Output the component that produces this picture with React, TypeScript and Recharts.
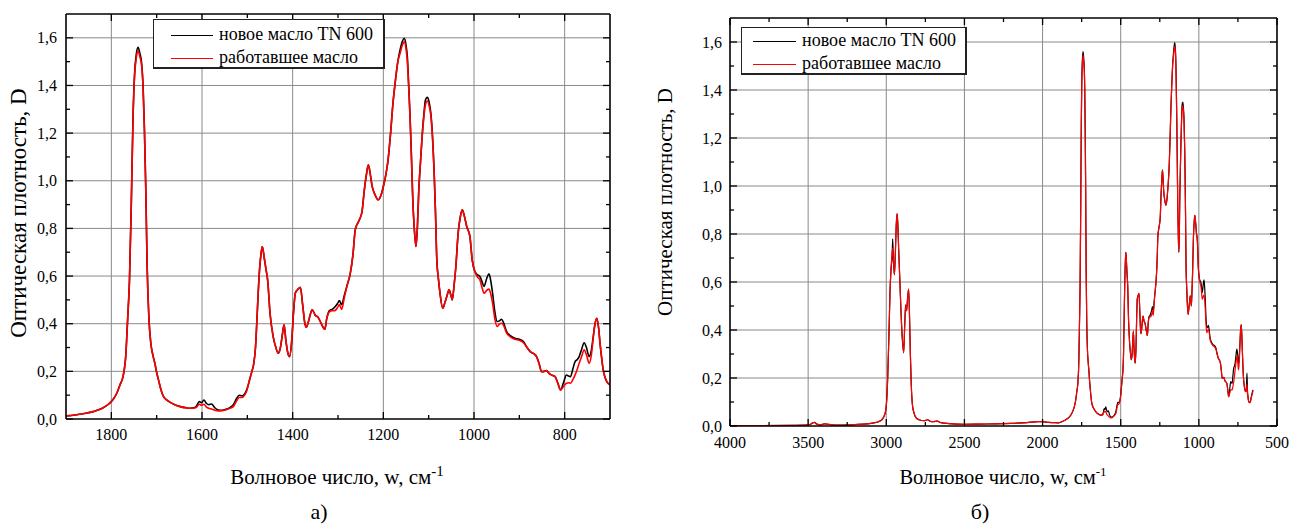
import React from 'react';
import { LineChart, Line, XAxis, YAxis, ReferenceLine, Legend } from 'recharts';

// Wavenumber, cm^-1 (descending)
const wavenumber = [
  4000, 3800, 3600, 3520, 3490, 3470, 3460, 3445, 3420, 3395, 3380, 3350, 3300, 3200, 3120, 3080, 3050, 3030, 3015, 3005,
  2997, 2990, 2983, 2976, 2969, 2963, 2959, 2955, 2948, 2942, 2936, 2931, 2926, 2921, 2914, 2906, 2898, 2889, 2882, 2876,
  2870, 2864, 2857, 2851, 2846, 2840, 2833, 2823, 2810, 2790, 2760, 2735, 2720, 2700, 2675, 2650, 2600, 2500, 2400, 2300,
  2200, 2100, 2030, 2000, 1960, 1930, 1900, 1880, 1860, 1840, 1820, 1805, 1795, 1788, 1781, 1774, 1768, 1764, 1760, 1756,
  1752, 1749, 1745, 1741, 1737, 1733, 1730, 1727, 1724, 1721, 1717, 1713, 1708, 1704, 1700, 1696, 1690, 1685, 1678, 1670,
  1660, 1648, 1635, 1626, 1616, 1612, 1606, 1601, 1596, 1590, 1585, 1579, 1572, 1564, 1555, 1545, 1537, 1531, 1524, 1518,
  1512, 1506, 1501, 1495, 1490, 1486, 1482, 1478, 1474, 1470, 1467, 1463, 1459, 1455, 1450, 1443, 1437, 1432, 1427, 1423,
  1419, 1415, 1411, 1407, 1402, 1398, 1394, 1388, 1383, 1378, 1373, 1370, 1365, 1361, 1357, 1350, 1344, 1338, 1333, 1329,
  1325, 1319, 1313, 1307, 1301, 1297, 1292, 1286, 1280, 1273, 1267, 1262, 1257, 1252, 1247, 1242, 1237, 1233, 1229, 1225,
  1218, 1211, 1205, 1200, 1195, 1190, 1184, 1179, 1174, 1168, 1163, 1158, 1154, 1150, 1147, 1144, 1141, 1138, 1135, 1131,
  1128, 1125, 1122, 1118, 1115, 1111, 1107, 1103, 1099, 1095, 1091, 1088, 1085, 1082, 1078, 1075, 1069, 1064, 1060, 1055,
  1051, 1048, 1044, 1040, 1035, 1030, 1026, 1021, 1016, 1009, 1004, 998, 992, 987, 982, 978, 972, 967, 963, 959,
  954, 949, 944, 939, 934, 928, 920, 910, 900, 891, 883, 876, 869, 862, 856, 851, 845, 840, 834, 829,
  821, 815, 809, 803, 796, 791, 787, 782, 777, 772, 768, 763, 757, 752, 746, 741, 737, 733, 729, 725,
  722, 718, 715, 711, 707, 700, 696, 692, 689, 685, 680, 672, 665, 658, 653,
];

// New oil TN 600 (black)
const newOil = [
  0.002, 0.002, 0.003, 0.004, 0.006, 0.013, 0.015, 0.008, 0.005, 0.009, 0.008, 0.005, 0.004, 0.006, 0.009, 0.013, 0.018, 0.025, 0.04, 0.06,
  0.11, 0.22, 0.38, 0.56, 0.66, 0.7, 0.78, 0.7, 0.63, 0.72, 0.84, 0.885, 0.84, 0.74, 0.62, 0.48, 0.37, 0.305, 0.42, 0.505,
  0.48, 0.53, 0.57, 0.45, 0.3, 0.17, 0.09, 0.055, 0.035, 0.026, 0.022, 0.026, 0.02, 0.018, 0.02, 0.014, 0.01, 0.007, 0.008, 0.009,
  0.011, 0.014, 0.018, 0.018, 0.015, 0.014, 0.013, 0.017, 0.023, 0.031, 0.045, 0.064, 0.085, 0.108, 0.143, 0.18, 0.27, 0.42, 0.58, 0.9,
  1.28, 1.44, 1.53, 1.56, 1.535, 1.49, 1.4, 1.22, 0.97, 0.64, 0.42, 0.32, 0.265, 0.234, 0.195, 0.164, 0.12, 0.095, 0.08, 0.07,
  0.06, 0.052, 0.047, 0.045, 0.048, 0.055, 0.073, 0.068, 0.08, 0.065, 0.06, 0.063, 0.048, 0.038, 0.037, 0.042, 0.05, 0.06, 0.085, 0.1,
  0.097, 0.105, 0.125, 0.165, 0.2, 0.23, 0.3, 0.45, 0.6, 0.69, 0.724, 0.68, 0.63, 0.58, 0.445, 0.346, 0.3, 0.276, 0.3, 0.35,
  0.395, 0.33, 0.28, 0.262, 0.33, 0.45, 0.53, 0.545, 0.553, 0.48, 0.4, 0.385, 0.41, 0.44, 0.458, 0.435, 0.427, 0.405, 0.385, 0.377,
  0.42, 0.455, 0.46, 0.47, 0.485, 0.497, 0.48, 0.52, 0.56, 0.61, 0.69, 0.794, 0.82, 0.84, 0.87, 0.96, 1.03, 1.067, 1.03, 0.98,
  0.94, 0.92, 0.94, 0.976, 1.02, 1.08, 1.2, 1.32, 1.41, 1.5, 1.55, 1.585, 1.598, 1.57, 1.52, 1.4, 1.27, 1.1, 0.92, 0.78,
  0.724, 0.8, 0.95, 1.08, 1.17, 1.27, 1.34, 1.35, 1.33, 1.28, 1.17, 1.04, 0.87, 0.668, 0.58, 0.528, 0.465, 0.49, 0.514, 0.542,
  0.52, 0.5, 0.56, 0.64, 0.78, 0.85, 0.878, 0.85, 0.808, 0.766, 0.668, 0.619, 0.605, 0.598, 0.575, 0.556, 0.59, 0.609, 0.58, 0.528,
  0.45, 0.409, 0.412, 0.419, 0.4, 0.367, 0.35, 0.339, 0.335, 0.325, 0.3, 0.283, 0.275, 0.262, 0.23, 0.199, 0.2, 0.203, 0.19, 0.185,
  0.178, 0.15, 0.122, 0.15, 0.185, 0.18, 0.178, 0.21, 0.241, 0.25, 0.262, 0.29, 0.32, 0.3, 0.262, 0.29, 0.346, 0.4, 0.423, 0.38,
  0.318, 0.25, 0.206, 0.175, 0.157, 0.143, 0.155, 0.22, 0.15, 0.12, 0.1, 0.1, 0.12, 0.14, 0.15,
];

// Used oil (red)
const usedOil = [
  0.002, 0.002, 0.003, 0.004, 0.006, 0.013, 0.015, 0.008, 0.005, 0.009, 0.008, 0.005, 0.004, 0.006, 0.009, 0.013, 0.018, 0.025, 0.04, 0.06,
  0.11, 0.22, 0.38, 0.56, 0.66, 0.72, 0.74, 0.7, 0.63, 0.72, 0.84, 0.885, 0.84, 0.74, 0.62, 0.48, 0.37, 0.305, 0.42, 0.505,
  0.48, 0.53, 0.57, 0.45, 0.3, 0.17, 0.09, 0.055, 0.035, 0.026, 0.022, 0.026, 0.02, 0.018, 0.02, 0.014, 0.01, 0.007, 0.008, 0.009,
  0.011, 0.014, 0.018, 0.018, 0.015, 0.014, 0.013, 0.017, 0.023, 0.031, 0.045, 0.064, 0.085, 0.108, 0.143, 0.18, 0.27, 0.42, 0.58, 0.9,
  1.27, 1.43, 1.515, 1.545, 1.52, 1.48, 1.39, 1.21, 0.96, 0.64, 0.42, 0.32, 0.265, 0.234, 0.195, 0.164, 0.12, 0.095, 0.08, 0.07,
  0.06, 0.052, 0.047, 0.045, 0.046, 0.05, 0.062, 0.058, 0.062, 0.05, 0.045, 0.042, 0.037, 0.034, 0.035, 0.04, 0.046, 0.052, 0.075, 0.09,
  0.09, 0.1, 0.12, 0.165, 0.2, 0.23, 0.3, 0.45, 0.6, 0.69, 0.724, 0.68, 0.63, 0.58, 0.445, 0.346, 0.3, 0.276, 0.3, 0.35,
  0.395, 0.33, 0.28, 0.262, 0.33, 0.45, 0.53, 0.545, 0.553, 0.48, 0.4, 0.385, 0.41, 0.44, 0.458, 0.435, 0.427, 0.405, 0.385, 0.377,
  0.42, 0.45, 0.455, 0.455, 0.468, 0.48, 0.46, 0.51, 0.56, 0.61, 0.69, 0.794, 0.82, 0.84, 0.87, 0.96, 1.03, 1.067, 1.03, 0.98,
  0.94, 0.92, 0.94, 0.976, 1.02, 1.08, 1.2, 1.32, 1.41, 1.5, 1.535, 1.57, 1.583, 1.555, 1.5, 1.39, 1.26, 1.1, 0.92, 0.78,
  0.724, 0.8, 0.95, 1.08, 1.17, 1.26, 1.32, 1.335, 1.315, 1.27, 1.16, 1.04, 0.87, 0.668, 0.58, 0.528, 0.465, 0.49, 0.514, 0.542,
  0.52, 0.5, 0.56, 0.64, 0.78, 0.85, 0.878, 0.85, 0.808, 0.766, 0.668, 0.619, 0.595, 0.584, 0.55, 0.528, 0.54, 0.545, 0.525, 0.486,
  0.42, 0.388, 0.398, 0.402, 0.39, 0.36, 0.345, 0.335, 0.33, 0.32, 0.3, 0.283, 0.275, 0.262, 0.23, 0.199, 0.2, 0.203, 0.19, 0.185,
  0.178, 0.15, 0.122, 0.135, 0.15, 0.152, 0.15, 0.165, 0.185, 0.21, 0.234, 0.26, 0.29, 0.27, 0.234, 0.27, 0.34, 0.4, 0.423, 0.38,
  0.318, 0.25, 0.206, 0.175, 0.157, 0.143, 0.145, 0.175, 0.135, 0.115, 0.097, 0.097, 0.115, 0.135, 0.145,
];

const seriesNames = ['новое масло TN 600', 'работавшее масло'];
const seriesColors = ['#000000', '#ff0000'];

const yTicks = [0, 0.1, 0.2, 0.3, 0.4, 0.5, 0.6, 0.7, 0.8, 0.9, 1.0, 1.1, 1.2, 1.3, 1.4, 1.5, 1.6];
const yGrid = [0.2, 0.4, 0.6, 0.8, 1.0, 1.2, 1.4, 1.6];
const xTicksA = [1800, 1700, 1600, 1500, 1400, 1300, 1200, 1100, 1000, 900, 800];
const xGridA = [1800, 1600, 1400, 1200, 1000, 800];
const xTicksB = [4000, 3750, 3500, 3250, 3000, 2750, 2500, 2250, 2000, 1750, 1500, 1250, 1000, 750, 500];
const xGridB = [3500, 3000, 2500, 2000, 1500, 1000];

const yTitle = 'Оптическая плотность, D';
const xTitle = 'Волновое число, w, см';
const panelLabels = ['а)', 'б)'];

const FONT = 'Liberation Serif';
const rows = wavenumber.map((w, i) => ({ w, newOil: newOil[i], usedOil: usedOil[i] }));
const dataA = rows.filter((r) => r.w <= 1900 && r.w >= 700);
const dataB = rows;

const isMajorY = (v: number) => Math.round(v * 10) % 2 === 0;
const fmtY = (v: number) => v.toFixed(1).replace('.', ',');

const makeTick = (side: string, isMajor: (v: number) => boolean, showLabel: boolean, fmt: (v: number) => string, gap: number) =>
  (props: any) => {
    const { x, y, payload } = props;
    const v = payload.value;
    const major = isMajor(v);
    const len = major ? 7 : 4;
    let line = null;
    let label = null;
    if (side === 'bottom') {
      line = <line x1={x} x2={x} y1={y} y2={y - len} stroke="#000" strokeWidth={1.3} />;
      if (showLabel && major) label = <text x={x} y={y + gap} textAnchor="middle" style={{ fontFamily: FONT, fontSize: 16 }} fill="#000">{fmt(v)}</text>;
    } else if (side === 'top') {
      line = <line x1={x} x2={x} y1={y} y2={y + len} stroke="#000" strokeWidth={1.3} />;
    } else if (side === 'left') {
      line = <line x1={x} x2={x + len} y1={y} y2={y} stroke="#000" strokeWidth={1.3} />;
      if (showLabel && major) label = <text x={x - gap} y={y} dy="0.35em" textAnchor="end" style={{ fontFamily: FONT, fontSize: 16 }} fill="#000">{fmt(v)}</text>;
    } else {
      line = <line x1={x} x2={x - len} y1={y} y2={y} stroke="#000" strokeWidth={1.3} />;
    }
    return <g>{line}{label}</g>;
  };

const makeLegend = (w: number, h: number, l1: number, l2: number, tx: number, rowsY: number[]) => (props: any) => {
  const payload = props.payload || [];
  return (
    <div style={{ width: w, height: h, boxSizing: 'border-box', border: '1px solid #222', borderRightWidth: 2, borderBottomWidth: 2, background: '#fff', position: 'relative', fontFamily: FONT, fontSize: 18, color: '#000' }}>
      {payload.map((p: any, i: number) => (
        <div key={i}>
          <div style={{ position: 'absolute', left: l1, top: rowsY[i], width: l2 - l1, height: 0, borderTop: `1.3px solid ${p.color}` }} />
          <div style={{ position: 'absolute', left: tx, top: rowsY[i] - 11, lineHeight: '20px', whiteSpace: 'nowrap' }}>{p.value}</div>
        </div>
      ))}
    </div>
  );
};

type PanelProps = {
  data: any[];
  left: number;
  width: number;
  margin: any;
  xDomain: number[];
  xTicks: number[];
  xGrid: number[];
  xMajor: (v: number) => boolean;
  xGap: number;
  yGap: number;
  strokeW: number;
  legend: any;
  legendPos: { left: number; top: number };
};

const Panel = (p: PanelProps) => (
  <div style={{ position: 'absolute', left: p.left, top: 0 }}>
    <LineChart width={p.width} height={527} data={p.data} margin={p.margin}>
      <XAxis dataKey="w" type="number" domain={p.xDomain} reversed allowDataOverflow ticks={p.xTicks} interval={0}
        height={1} tickSize={0} tickMargin={0} axisLine={{ stroke: '#000', strokeWidth: 1.6 }} tickLine={false}
        tick={makeTick('bottom', p.xMajor, true, (v) => String(v), p.xGap)} />
      <XAxis xAxisId="top" orientation="top" dataKey="w" type="number" domain={p.xDomain} reversed allowDataOverflow ticks={p.xTicks} interval={0}
        height={1} tickSize={0} tickMargin={0} axisLine={{ stroke: '#000', strokeWidth: 1.6 }} tickLine={false}
        tick={makeTick('top', p.xMajor, false, (v) => String(v), 0)} />
      <YAxis type="number" domain={[0, 1.7]} allowDataOverflow ticks={yTicks} interval={0} width={1} tickSize={0} tickMargin={0}
        axisLine={{ stroke: '#000', strokeWidth: 1.6 }} tickLine={false}
        tick={makeTick('left', isMajorY, true, fmtY, p.yGap)} />
      <YAxis yAxisId="right" orientation="right" type="number" domain={[0, 1.7]} allowDataOverflow ticks={yTicks} interval={0} width={1} tickSize={0} tickMargin={0}
        axisLine={{ stroke: '#000', strokeWidth: 1.6 }} tickLine={false}
        tick={makeTick('right', isMajorY, false, fmtY, 0)} />
      {p.xGrid.map((v) => <ReferenceLine key={'gx' + v} x={v} stroke="#8a8a8a" strokeWidth={1} />)}
      {yGrid.map((v) => <ReferenceLine key={'gy' + v} y={v} stroke="#8a8a8a" strokeWidth={1} />)}
      <Line type="monotone" dataKey="newOil" name={seriesNames[0]} stroke={seriesColors[0]} strokeWidth={p.strokeW} dot={false} isAnimationActive={false} />
      <Line type="monotone" dataKey="usedOil" name={seriesNames[1]} stroke={seriesColors[1]} strokeWidth={p.strokeW} dot={false} isAnimationActive={false} />
      <Legend layout="horizontal" verticalAlign="middle" align="center" content={p.legend}
        wrapperStyle={{ left: p.legendPos.left, top: p.legendPos.top, width: 'auto', height: 'auto' }} />
    </LineChart>
  </div>
);

const textStyle: any = { position: 'absolute', fontFamily: FONT, color: '#000', whiteSpace: 'nowrap', lineHeight: 1 };

export default function App() {
  return (
    <div style={{ position: 'absolute', left: 0, top: 0, width: 1290, height: 527, background: '#fff', overflow: 'hidden', fontFamily: FONT }}>
      <Panel data={dataA} left={0} width={640} margin={{ top: 13, right: 29, left: 65, bottom: 107 }}
        xDomain={[700, 1900]} xTicks={xTicksA} xGrid={xGridA} xMajor={(v) => v % 200 === 0} xGap={21} yGap={9} strokeW={1.6}
        legend={makeLegend(232, 50, 17, 59, 65, [15, 38])} legendPos={{ left: 153, top: 19 }} />
      <Panel data={dataB} left={645} width={645} margin={{ top: 17, right: 12, left: 84, bottom: 100 }}
        xDomain={[500, 4000]} xTicks={xTicksB} xGrid={xGridB} xMajor={(v) => v % 500 === 0} xGap={22} yGap={8} strokeW={1.2}
        legend={makeLegend(226, 48, 11, 54, 60, [13, 36])} legendPos={{ left: 96, top: 27 }} />

      <div style={{ ...textStyle, left: 18, top: 213, fontSize: 23, transform: 'translate(-50%, -50%) rotate(-90deg)' }}>{yTitle}</div>
      <div style={{ ...textStyle, left: 665, top: 202, fontSize: 21, transform: 'translate(-50%, -50%) rotate(-90deg)' }}>{yTitle}</div>

      <div style={{ ...textStyle, left: 337, top: 476, fontSize: 21, transform: 'translate(-50%, -50%)' }}>
        {xTitle}<sup style={{ fontSize: 15, verticalAlign: '0.55em' }}>-1</sup>
      </div>
      <div style={{ ...textStyle, left: 1003, top: 476, fontSize: 20.5, transform: 'translate(-50%, -50%)' }}>
        {xTitle}<sup style={{ fontSize: 13, verticalAlign: '0.6em' }}>-1</sup>
      </div>

      <div style={{ ...textStyle, left: 319, top: 512, fontSize: 22, transform: 'translate(-50%, -50%)' }}>{panelLabels[0]}</div>
      <div style={{ ...textStyle, left: 980, top: 512, fontSize: 22, transform: 'translate(-50%, -50%)' }}>{panelLabels[1]}</div>
    </div>
  );
}
